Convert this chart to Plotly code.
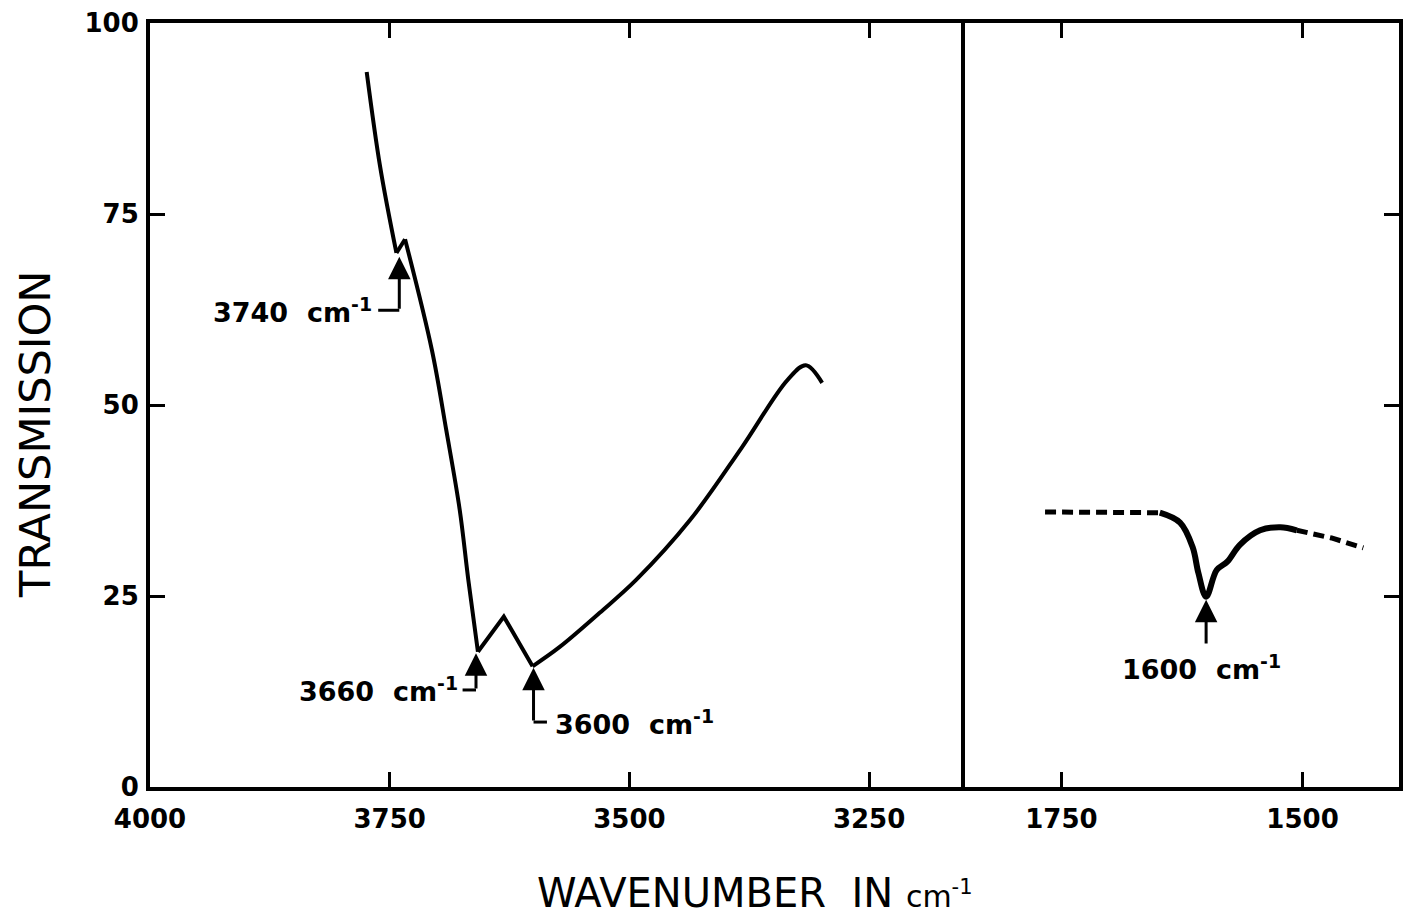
import plotly.graph_objects as go

# O-H stretching region (left panel), split where the trace has sharp corners
oh_upper_wn = [3774, 3760, 3743]
oh_upper_t = [93.6, 81.2, 69.9]
oh_kink_wn = [3743, 3734]
oh_kink_t = [69.9, 71.7]
oh_fall_wn = [3734, 3706, 3691, 3677, 3668, 3658]
oh_fall_t = [71.7, 57.2, 46.7, 36.3, 27.1, 17.7]
oh_w_wn = [3658, 3631, 3601]
oh_w_t = [17.7, 22.3, 15.8]
oh_rise_wn = [3601, 3573, 3531, 3493, 3437, 3383, 3335, 3316, 3299]
oh_rise_t = [15.8, 18.3, 22.8, 27.1, 34.9, 44.4, 53.3, 55.2, 52.9]

# Bending region (right panel): dashed baseline, measured band, dashed tail
bend_lead_wn = [1767, 1676, 1648]
bend_lead_t = [36.0, 36.0, 35.9]
bend_wn = [1648, 1627, 1614, 1608, 1600, 1589, 1578, 1565, 1544, 1523, 1506]
bend_t = [35.9, 34.6, 31.4, 28.0, 24.9, 28.4, 29.5, 31.7, 33.6, 34.0, 33.6]
bend_tail_wn = [1506, 1470, 1437]
bend_tail_t = [33.6, 32.6, 31.3]

# Marked bands: wavenumber, transmission at arrow tip and at arrow tail
oh_bands = [3740, 3660, 3600]
oh_band_tip = [69.4, 17.5, 15.6]
oh_band_tail = [62.4, 12.7, 8.5]
bend_band = 1600
bend_band_tip = 24.5
bend_band_tail = 18.6

y_ticks = [0, 25, 50, 75, 100]
oh_ticks = [4000, 3750, 3500, 3250]
bend_ticks = [1750, 1500]

FONT = "DejaVu Sans"
INK = "black"

fig = go.Figure()


def add_line(xs, ys, axis="", shape="linear", width=4, dash="solid"):
    fig.add_trace(go.Scatter(x=xs, y=ys, mode="lines", line_shape=shape,
                             line=dict(color=INK, width=width, dash=dash),
                             xaxis="x" + axis, yaxis="y" + axis))


add_line(oh_upper_wn, oh_upper_t, shape="spline")
add_line(oh_kink_wn, oh_kink_t)
add_line(oh_fall_wn, oh_fall_t, shape="spline")
add_line(oh_w_wn, oh_w_t)
add_line(oh_rise_wn, oh_rise_t, shape="spline")

add_line(bend_lead_wn, bend_lead_t, axis="2", width=5, dash="11px,6px")
add_line(bend_wn, bend_t, axis="2", shape="spline", width=6)
add_line(bend_tail_wn, bend_tail_t, axis="2", width=5, dash="11px,6px")

split = (965 - 150) / 1249

tick_font = dict(family=FONT, size=26, color=INK, weight="bold")
axis_common = dict(showline=True, linecolor=INK, linewidth=4, ticks="inside",
                   ticklen=15, tickwidth=3, tickcolor=INK, showgrid=False,
                   zeroline=False, tickfont=tick_font)

fig.update_layout(
    width=1403, height=919,
    margin=dict(l=150, r=4, t=23, b=132),
    paper_bgcolor="white", plot_bgcolor="white",
    showlegend=False,
    xaxis=dict(axis_common, domain=[0, split], range=[4000, 3150], tickvals=oh_ticks,
               mirror="ticks", anchor="y", ticklabelstandoff=6),
    xaxis2=dict(axis_common, domain=[split, 1], range=[1850, 1400], tickvals=bend_ticks,
                mirror="ticks", anchor="y2", ticklabelstandoff=6),
    yaxis=dict(axis_common, range=[0, 100], tickvals=y_ticks, mirror=False,
               anchor="x", ticklabelstandoff=2),
    yaxis2=dict(axis_common, range=[0, 100], tickvals=y_ticks, side="right",
                mirror=True, anchor="x2", showticklabels=False),
)

arrow_style = dict(showarrow=True, arrowhead=2, arrowsize=1.5, arrowwidth=3,
                   arrowcolor=INK, text="")
label_font = dict(family=FONT, size=27, color=INK, weight="bold")


def mark_band(wn, tip, tail, axis, bracket, text_shift, anchor):
    xr, yr = "x" + axis, "y" + axis
    fig.add_annotation(x=wn, y=tip, ax=wn, ay=tail, xref=xr, yref=yr,
                       axref=xr, ayref=yr, **arrow_style)
    fig.add_shape(type="line", x0=wn + bracket, x1=wn, y0=tail, y1=tail,
                  xref=xr, yref=yr, line=dict(color=INK, width=3))
    fig.add_annotation(x=wn + text_shift, y=tail, text=f"{wn}  cm<sup>-1</sup>",
                       showarrow=False, xanchor=anchor, yanchor="middle",
                       font=label_font, xref=xr, yref=yr)


# 3740 and 3660: bracket to the left; 3600: bracket to the right
mark_band(oh_bands[0], oh_band_tip[0], oh_band_tail[0], "", 22, 26, "right")
mark_band(oh_bands[1], oh_band_tip[1], oh_band_tail[1], "", 14, 17, "right")
mark_band(oh_bands[2], oh_band_tip[2], oh_band_tail[2], "", -14, -20, "left")

# 1600 cm-1 in the bending panel, label centred beneath the arrow
fig.add_annotation(x=bend_band, y=bend_band_tip, ax=bend_band, ay=bend_band_tail,
                   xref="x2", yref="y2", axref="x2", ayref="y2", **arrow_style)
fig.add_annotation(x=bend_band + 5, y=bend_band_tail - 3, text=f"{bend_band}  cm<sup>-1</sup>",
                   showarrow=False, xanchor="center", yanchor="middle", font=label_font,
                   xref="x2", yref="y2")

# Axis titles
fig.add_annotation(x=(755 - 150) / 1249, y=-0.139, xref="paper", yref="paper",
                   text="WAVENUMBER  IN <span style='font-size:30px'>cm<sup>-1</sup></span>",
                   showarrow=False, xanchor="center", yanchor="middle",
                   font=dict(family=FONT, size=40, color=INK))
fig.add_annotation(x=-0.092, y=0.461, xref="paper", yref="paper", text="TRANSMISSION",
                   textangle=-90, showarrow=False, xanchor="center", yanchor="middle",
                   font=dict(family=FONT, size=43, color=INK))

fig.write_html("out.html")
